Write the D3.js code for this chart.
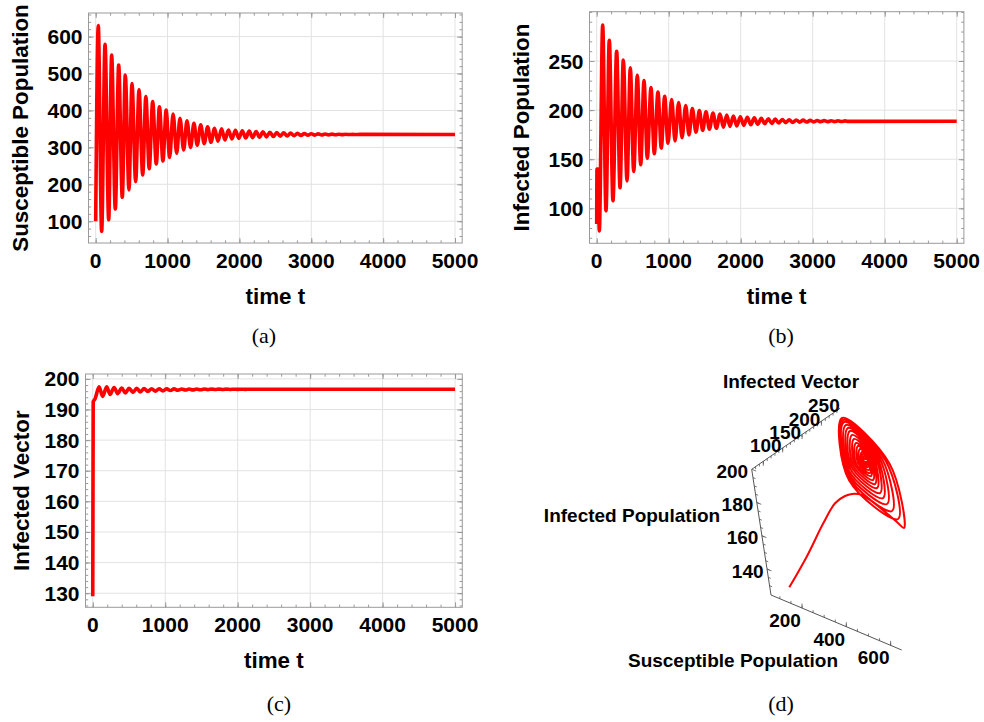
<!DOCTYPE html>
<html>
<head>
<meta charset="utf-8">
<script src="https://cdn.jsdelivr.net/npm/d3@7"></script>
<title>SIV dynamics</title>
<style>
  body { margin: 0; background: #fff; }
  text { font-family: "Liberation Sans", Arial, sans-serif; font-weight: bold; fill: #000; }
  .tick { font-size: 21px; }
  .title { font-size: 22.4px; }
  .d3lab { font-size: 19px; }
  .cap { font-family: "Liberation Serif", "Times New Roman", serif; font-weight: normal; font-size: 22px; }
</style>
</head>
<body>
<svg id="chart" width="984" height="722"></svg>
<script>
// (a) susceptible population, turning points
var sTime = [
  0, 36, 83, 130, 181, 222, 273, 320, 370, 412,
  463, 505, 556, 603, 654, 698, 745, 793, 843, 887,
  936, 980, 1029, 1077, 1127, 1173, 1224, 1270, 1321, 1367,
  1413, 1461, 1510, 1558, 1604, 1654, 1700, 1752, 1798, 1848,
  1896, 1944, 1992, 2040, 2088, 2136, 2184, 2232, 2280, 2328,
  2376, 2424, 2472, 2520, 2568, 2616, 2664, 2712, 2760, 2808,
  2856, 2904, 2952, 3000, 3048, 3096, 3144, 3192, 3240, 3288,
  3336, 3384, 3432, 3480, 3528, 3576, 3624, 3672, 5000
];
var sValue = [
  100, 630, 72, 579, 104, 550, 133, 523, 165, 496,
  185, 473, 207, 456, 225, 438, 242, 424, 255, 410,
  263, 401, 273, 390, 284, 379, 293, 372, 300, 365,
  306, 361, 310, 356, 314, 352, 317, 350, 320, 347,
  323, 346, 324.5, 345, 325.5, 344, 326.5, 343, 327.5, 342,
  328.5, 341, 329.3, 340.2, 330.2, 339.4, 331, 338.7, 331.7, 338,
  332.3, 337.4, 332.8, 336.9, 333.3, 336.5, 333.7, 336.1, 334, 335.8,
  334.3, 335.6, 334.5, 335.4, 334.7, 335.3, 334.8, 335.1, 335
];

// (b) infected population
var iTime = [
  0, 4, 20, 36,
  83, 129, 175, 226, 277, 324, 370, 421, 467, 514,
  564, 611, 657, 703, 754, 800, 851, 897, 944, 990,
  1041, 1088, 1138, 1185, 1236, 1282, 1328, 1379, 1426, 1472,
  1518, 1565, 1615, 1662, 1713, 1760, 1806, 1851, 1898,
  1946, 1995, 2043, 2092, 2140, 2189, 2237, 2286, 2334, 2383,
  2431, 2480, 2528, 2577, 2625, 2674, 2722, 2771, 2819, 2868,
  2916, 2965, 3013, 3062, 3110, 3159, 3207, 3256, 3304, 3353,
  3401, 3450, 3498, 5000
];
var iValue = [
  84, 140, 140, 77,
  286.5, 97.5, 271, 107.7, 260, 121, 251, 128, 243, 137.5,
  235.5, 144.4, 230, 151, 223, 155.5, 218.5, 161.3, 214, 166.4,
  210.7, 168.7, 207.7, 172, 204.6, 174.8, 201.6, 177.5, 199.5, 179.3,
  198.2, 180.6, 197, 181.6, 196, 182.7, 195, 183.4, 194,
  183.9, 193.2, 184.5, 192.6, 185.1, 192.1, 185.6, 191.6, 186.1, 191.2,
  186.5, 190.8, 186.9, 190.5, 187.2, 190.2, 187.5, 190.0, 187.7, 189.8,
  187.9, 189.6, 188.0, 189.4, 188.1, 189.3, 188.2, 189.2, 188.3, 189.1,
  188.4, 189.0, 188.5, 188.7
];

// (c) infected vector
var vTime = [
  0, 6, 18, 32,
  87, 137, 193, 240, 294, 345, 400, 450, 501, 555,
  607, 658, 708, 760, 814, 865, 915, 968, 1021, 1072,
  1122, 1175, 1228, 1280, 1329, 1382, 1435, 1487, 1536, 1590,
  1642, 1693, 1743, 1796, 1849, 1900, 1950, 2002, 2053, 2105,
  2156, 2208, 5000
];
var vValue = [
  129, 192.5, 193, 193.5,
  197.45, 194.3, 197.4, 194.9, 197.2, 195.2, 197.0, 195.4, 196.95, 195.6,
  196.9, 195.75, 196.85, 195.9, 196.8, 196.0, 196.78, 196.1, 196.75, 196.2,
  196.73, 196.3, 196.71, 196.35, 196.7, 196.4, 196.69, 196.45, 196.68, 196.5,
  196.67, 196.52, 196.66, 196.54, 196.65, 196.56, 196.64, 196.58, 196.63, 196.59,
  196.62, 196.6, 196.6
];

var trajS = [
  114.4, 195.8, 256.1, 304.8, 355.5, 389.4, 429.0, 479.3, 587.6, 658.7,
  695.8, 394.0, 75.1, 348.0,
  642.4, 372.1, 86.0, 329.7,
  593.1, 352.2, 96.9, 314.8,
  550.7, 339.2, 114.7, 306.8,
  515.1, 329.6, 132.5, 302.2,
  486.3, 323.5, 150.3, 297.7,
  457.6, 319.4, 172.2, 298.6,
  435.8, 318.8, 194.1, 299.5,
  413.9, 318.0, 215.9, 300.1,
  392.0, 315.5, 233.7, 302.3,
  377.1, 316.6, 251.5, 304.1,
  362.1, 317.5, 269.3, 306.0,
  347.1, 315.2, 280.2, 306.4,
  336.1, 315.0, 291.2, 308.3,
  328.0, 316.2, 302.1, 311.2,
  322.6, 316.7, 309.0, 313.0
];
var trajI = [
  89.2, 101.4, 122.9, 133.9, 135.3, 136.0, 139.8, 132.4, 114.2, 102.7,
  97.0, 232.3, 291.9, 154.1,
  112.0, 235.0, 288.2, 162.6,
  124.7, 236.5, 284.6, 170.5,
  136.1, 236.7, 279.5, 176.9,
  146.1, 236.2, 274.5, 182.8,
  154.8, 235.1, 269.5, 188.6,
  163.5, 232.8, 262.2, 192.6,
  170.8, 229.7, 254.8, 196.6,
  178.2, 226.8, 247.5, 199.6,
  185.5, 226.0, 242.5, 203.1,
  191.5, 224.5, 237.5, 205.6,
  197.5, 223.0, 232.5, 208.0,
  203.5, 223.1, 228.8, 210.0,
  207.1, 222.1, 225.1, 212.5,
  211.8, 221.6, 221.5, 212.6,
  213.6, 220.8, 220.1, 217.8
];
var trajV = [
  129, 150, 170, 183, 190, 193, 194, 195, 196, 196,
  196, 196, 196, 196,
  196, 196, 196, 196,
  196, 196, 196, 196,
  196, 196, 196, 196,
  196, 196, 196, 196,
  196, 196, 196, 196,
  196, 196, 196, 196,
  196, 196, 196, 196,
  196, 196, 196, 196,
  196, 196, 196, 196,
  196, 196, 196, 196,
  196, 196, 196, 196,
  196, 196, 196, 196,
  196, 196, 196, 196,
  196, 196, 196, 196,
  196, 196, 196, 196
];

// tick labels
var timeTicks = [0, 1000, 2000, 3000, 4000, 5000];
var sTicks = [100, 200, 300, 400, 500, 600];
var iTicks = [100, 150, 200, 250];
var vTicks = [130, 140, 150, 160, 170, 180, 190, 200];
var d3STicks = [200, 400, 600];
var d3ITicks = [100, 150, 200, 250];
var d3VTicks = [140, 160, 180, 200];

var svg = d3.select("#chart");
var RED = "#ff0000";
var FRAME = "#9a9a9a";

function timePanel(box, t, v, yDomain, yTicks, yMinorStep, yTitle, titleX, caption, capPos) {
  var g = svg.append("g");
  var x = d3.scaleLinear().domain([-100, 5100]).range([box.left, box.right]);
  var y = d3.scaleLinear().domain(yDomain).range([box.bottom, box.top]);
  var xMinor = d3.range(0, 5001, 200);
  var yMinor = d3.range(Math.ceil(yDomain[0] / yMinorStep) * yMinorStep, yDomain[1], yMinorStep);

  // grid
  g.append("g").selectAll("line").data(timeTicks).join("line")
    .attr("x1", d => x(d)).attr("x2", d => x(d))
    .attr("y1", box.top).attr("y2", box.bottom)
    .attr("stroke", "#e2e2e2");
  g.append("g").selectAll("line").data(yTicks).join("line")
    .attr("x1", box.left).attr("x2", box.right)
    .attr("y1", d => y(d)).attr("y2", d => y(d))
    .attr("stroke", "#e2e2e2");

  // inward ticks on all four sides
  function side(axisFn, scale, values, size, tr) {
    g.append("g").attr("transform", tr)
      .call(axisFn(scale).tickValues(values).tickSize(-size).tickFormat(""))
      .call(a => a.select(".domain").remove())
      .selectAll("line").attr("stroke", FRAME);
  }
  side(d3.axisBottom, x, xMinor, 2.7, "translate(0," + box.bottom + ")");
  side(d3.axisBottom, x, timeTicks, 5, "translate(0," + box.bottom + ")");
  side(d3.axisTop, x, xMinor, 2.7, "translate(0," + box.top + ")");
  side(d3.axisTop, x, timeTicks, 5, "translate(0," + box.top + ")");
  side(d3.axisLeft, y, yMinor, 2.7, "translate(" + box.left + ",0)");
  side(d3.axisLeft, y, yTicks, 5, "translate(" + box.left + ",0)");
  side(d3.axisRight, y, yMinor, 2.7, "translate(" + box.right + ",0)");
  side(d3.axisRight, y, yTicks, 5, "translate(" + box.right + ",0)");

  g.append("rect")
    .attr("x", box.left).attr("y", box.top)
    .attr("width", box.right - box.left).attr("height", box.bottom - box.top)
    .attr("fill", "none").attr("stroke", FRAME);

  // curve
  var line = d3.line().x(d => x(d[0])).y(d => y(d[1])).curve(d3.curveMonotoneX);
  g.append("path").datum(d3.zip(t, v))
    .attr("d", line)
    .attr("fill", "none").attr("stroke", RED).attr("stroke-width", 3.6)
    .attr("stroke-linejoin", "round");

  // labels
  g.append("g").selectAll("text").data(timeTicks).join("text")
    .attr("class", "tick").attr("text-anchor", "middle")
    .attr("x", d => x(d)).attr("y", box.bottom + 24.5)
    .text(d => d);
  g.append("g").selectAll("text").data(yTicks).join("text")
    .attr("class", "tick").attr("text-anchor", "end")
    .attr("x", box.left - 6).attr("y", d => y(d) + 7.5)
    .text(d => d);
  g.append("text").attr("class", "title").attr("text-anchor", "middle")
    .attr("x", (box.left + box.right) / 2).attr("y", box.bottom + 60.5)
    .text("time t");
  var cy = (box.top + box.bottom) / 2;
  g.append("text").attr("class", "title").attr("text-anchor", "middle")
    .attr("transform", "translate(" + titleX + "," + cy + ") rotate(-90)")
    .text(yTitle);
  g.append("text").attr("class", "cap").attr("text-anchor", "middle")
    .attr("x", capPos[0]).attr("y", capPos[1]).text(caption);
}

timePanel({left: 88.5, right: 462.2, top: 13, bottom: 243}, sTime, sValue,
  [41, 664], sTicks, 20, "Susceptible Population", 27.5, "(a)", [264, 343]);
timePanel({left: 589.5, right: 963.9, top: 11.7, bottom: 243.3}, iTime, iValue,
  [64.4, 300.2], iTicks, 10, "Infected Population", 529, "(b)", [781, 343]);
timePanel({left: 85.5, right: 462.3, top: 374, bottom: 607.3}, vTime, vValue,
  [125.4, 201.6], vTicks, 2, "Infected Vector", 28.5, "(c)", [279, 711]);

// (d) 3-D view: each data axis is a linear scale along one edge of the box
var corner = [771, 595];
var sVec = [130.7, 55], vVec = [-19.3, -125.7], iVec = [88.3, -61];
var scS = d3.scaleLinear().domain([60, 650]).range([0, 1]);
var scV = d3.scaleLinear().domain([124.4, 200]).range([0, 1]);
var scI = d3.scaleLinear().domain([70, 298]).range([0, 1]);
function project(s, i, v) {
  var a = scS(s), b = scI(i), c = scV(v);
  return [corner[0] + a * sVec[0] + b * iVec[0] + c * vVec[0],
          corner[1] + a * sVec[1] + b * iVec[1] + c * vVec[1]];
}
var gd = svg.append("g");
var axisColor = "#555";
function edge(p0, p1) {
  gd.append("line").attr("x1", p0[0]).attr("y1", p0[1]).attr("x2", p1[0]).attr("y2", p1[1])
    .attr("stroke", axisColor).attr("stroke-width", 1);
}
edge(project(60, 70, 124.4), project(650, 70, 124.4));
edge(project(60, 70, 124.4), project(60, 70, 200));
edge(project(60, 70, 200), project(60, 298, 200));

function tickMarks(vals, at, dir, len) {
  gd.append("g").selectAll("line").data(vals).join("line")
    .attr("x1", d => at(d)[0]).attr("y1", d => at(d)[1])
    .attr("x2", d => at(d)[0] + dir[0] * len).attr("y2", d => at(d)[1] + dir[1] * len)
    .attr("stroke", axisColor).attr("stroke-width", 0.8);
}
var sAt = s => project(s, 70, 124.4);
var vAt = v => project(60, 70, v);
var iAt = i => project(60, i, 200);
tickMarks(d3.range(100, 650, 50), sAt, [0, -1], 2.5);
tickMarks(d3STicks, sAt, [0, -1], 4.5);
tickMarks(d3.range(130, 200, 5), vAt, [1, 0.4], 2.5);
tickMarks(d3VTicks, vAt, [1, 0.4], 4.5);
tickMarks(d3.range(80, 298, 10), iAt, [0, 1], 2.5);
tickMarks(d3ITicks, iAt, [0, 1], 4.5);

gd.append("g").selectAll("text").data(d3STicks).join("text")
  .attr("class", "d3lab").attr("text-anchor", "middle")
  .attr("x", d => sAt(d)[0] - 17).attr("y", d => sAt(d)[1] + 19).text(d => d);
gd.append("g").selectAll("text").data(d3VTicks).join("text")
  .attr("class", "d3lab").attr("text-anchor", "end")
  .attr("x", d => vAt(d)[0] - 3.5).attr("y", d => vAt(d)[1] + 8.5).text(d => d);
gd.append("g").selectAll("text").data(d3ITicks).join("text")
  .attr("class", "d3lab").attr("text-anchor", "middle")
  .attr("x", d => iAt(d)[0] + 2.5).attr("y", d => iAt(d)[1] - 9).text(d => d);

gd.append("text").attr("class", "d3lab").attr("text-anchor", "middle")
  .attr("x", 791).attr("y", 388).text("Infected Vector");
gd.append("text").attr("class", "d3lab").attr("text-anchor", "middle")
  .attr("x", 632).attr("y", 522).text("Infected Population");
gd.append("text").attr("class", "d3lab").attr("text-anchor", "middle")
  .attr("x", 733).attr("y", 667).text("Susceptible Population");

var traj = d3.zip(trajS, trajI, trajV).map(d => project(d[0], d[1], d[2]));
gd.append("path").datum(traj)
  .attr("d", d3.line().curve(d3.curveCatmullRom.alpha(0.5)))
  .attr("fill", "none").attr("stroke", RED).attr("stroke-width", 2)
  .attr("stroke-linejoin", "round");

gd.append("text").attr("class", "cap").attr("text-anchor", "middle")
  .attr("x", 781).attr("y", 711).text("(d)");
</script>
</body>
</html>
